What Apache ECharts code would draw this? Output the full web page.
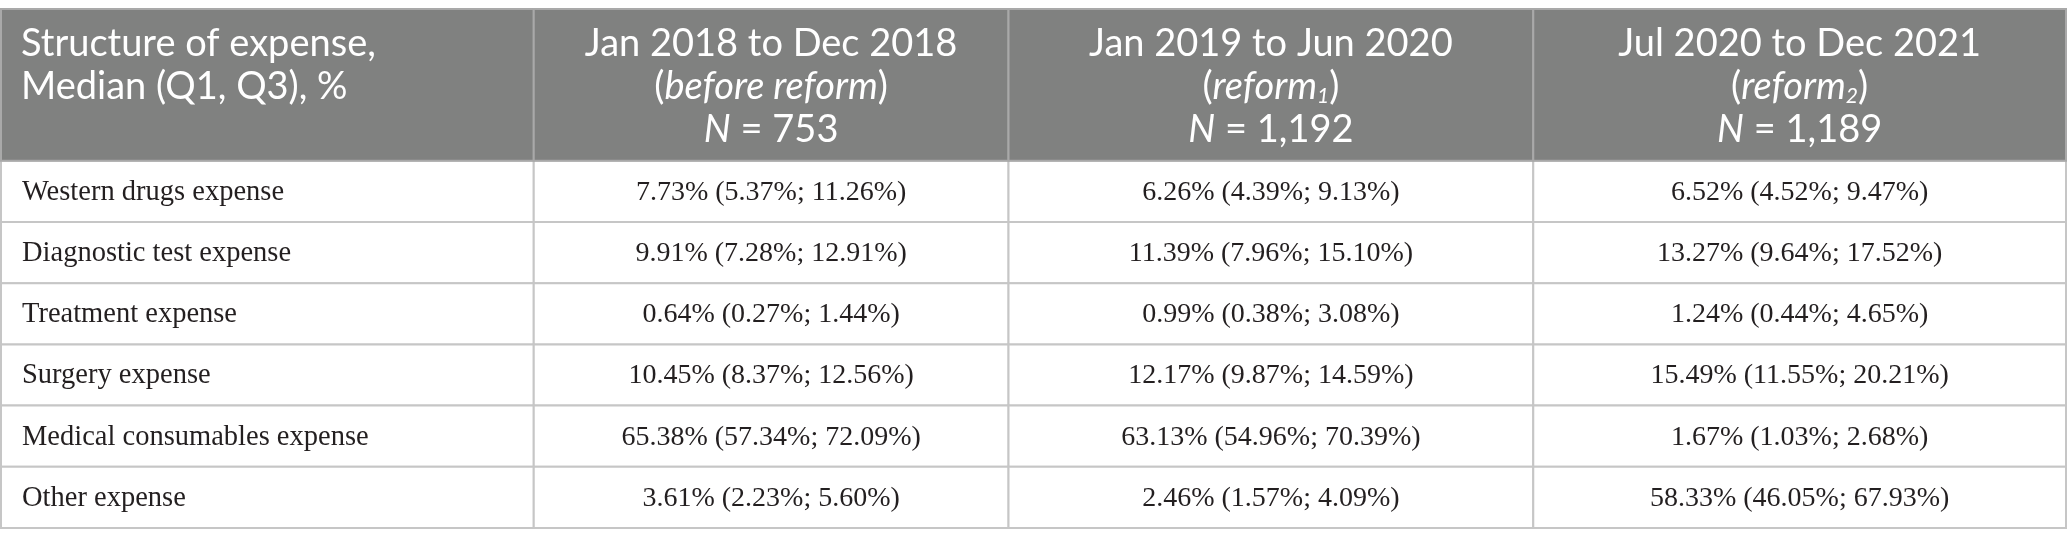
<!DOCTYPE html>
<html>
<head>
<meta charset="utf-8">
<script src="https://cdn.jsdelivr.net/npm/echarts@6.0.0/dist/echarts.min.js"></script>
<style>
  html, body { margin: 0; padding: 0; background: #fff; }
  #chart { width: 2067px; height: 547px; }
</style>
</head>
<body>
<div id="chart"></div>
<script>
// ---- data ----
const categories = [
  'Western drugs expense',
  'Diagnostic test expense',
  'Treatment expense',
  'Surgery expense',
  'Medical consumables expense',
  'Other expense'
];
const stubTitle = ['Structure of expense,', 'Median (Q1, Q3), %'];
const periods = ['Jan 2018 to Dec 2018', 'Jan 2019 to Jun 2020', 'Jul 2020 to Dec 2021'];
const periodNotes = ['before reform', 'reform', 'reform'];
const periodSubs = ['', '1', '2'];
const sampleSizes = [753, 1192, 1189];

const beforeMedian = [7.73, 9.91, 0.64, 10.45, 65.38, 3.61];
const beforeQ1     = [5.37, 7.28, 0.27, 8.37, 57.34, 2.23];
const beforeQ3     = [11.26, 12.91, 1.44, 12.56, 72.09, 5.60];

const reform1Median = [6.26, 11.39, 0.99, 12.17, 63.13, 2.46];
const reform1Q1     = [4.39, 7.96, 0.38, 9.87, 54.96, 1.57];
const reform1Q3     = [9.13, 15.10, 3.08, 14.59, 70.39, 4.09];

const reform2Median = [6.52, 13.27, 1.24, 15.49, 1.67, 58.33];
const reform2Q1     = [4.52, 9.64, 0.44, 11.55, 1.03, 46.05];
const reform2Q3     = [9.47, 17.52, 4.65, 20.21, 2.68, 67.93];

const periodStats = [
  [beforeMedian, beforeQ1, beforeQ3],
  [reform1Median, reform1Q1, reform1Q3],
  [reform2Median, reform2Q1, reform2Q3]
];

// ---- layout ----
const colWidths = [533, 475, 525, 533];
const headerSpan = 2.48;   // header height in body-row units
const colEdges = [0];
colWidths.forEach(w => colEdges.push(colEdges[colEdges.length - 1] + w));
const rowTop = r => (r < 0 ? 0 : headerSpan + r);
const rowBottom = r => (r < 0 ? headerSpan : headerSpan + r + 1);

const pct = v => v.toFixed(2) + '%';
const cellText = (c, r) => {
  if (c === 0) return categories[r];
  const s = periodStats[c - 1];
  return pct(s[0][r]) + ' (' + pct(s[1][r]) + '; ' + pct(s[2][r]) + ')';
};

const headFont = 'Lato';
const headRich = {
  n: { fontFamily: headFont, fontSize: 38, color: '#fff', lineHeight: 43 },
  i: { fontFamily: headFont, fontSize: 38, color: '#fff', lineHeight: 43, fontStyle: 'italic' },
  s: { fontFamily: headFont, fontSize: 21, color: '#fff', fontStyle: 'italic', verticalAlign: 'bottom', padding: [0, 0, 1, 0] }
};
const headerText = c => {
  if (c === 0) return stubTitle.map(t => '{n|' + t + '}').join('\n');
  const i = c - 1;
  const sub = periodSubs[i] ? '{s|' + periodSubs[i] + '}' : '';
  return '{n|' + periods[i] + '}\n' +
    '{n|(}{i|' + periodNotes[i] + '}' + sub + '{n|)}\n' +
    '{i|N}{n| = ' + sampleSizes[i].toLocaleString('en-US') + '}';
};

function cellRect(api, c, r) {
  const p0 = api.coord([colEdges[c], rowTop(r)]);
  const p1 = api.coord([colEdges[c + 1], rowBottom(r)]);
  return { x: p0[0], y: p0[1], width: p1[0] - p0[0], height: p1[1] - p0[1] };
}

const headerData = colWidths.map((w, c) => [c, -1]);
const bodyData = [];
categories.forEach((name, r) => {
  colWidths.forEach((w, c) => bodyData.push([c, r]));
});

const chart = echarts.init(document.getElementById('chart'));
chart.setOption({
  animation: false,
  grid: { left: 1, right: 1, top: 9, bottom: 19 },
  xAxis: { type: 'value', min: 0, max: colEdges[colEdges.length - 1], show: false },
  yAxis: { type: 'value', min: 0, max: headerSpan + categories.length, inverse: true, show: false },
  series: [
    {
      type: 'custom',
      clip: false,
      silent: true,
      data: bodyData,
      renderItem: (params, api) => {
        const c = api.value(0), r = api.value(1);
        const rect = cellRect(api, c, r);
        return {
          type: 'group',
          children: [
            { type: 'rect', shape: rect, style: { fill: '#fff', stroke: '#c6c6c6', lineWidth: 2 } },
            {
              type: 'text',
              style: {
                x: c === 0 ? rect.x + 21 : rect.x + rect.width / 2,
                y: rect.y + rect.height / 2 + 1,
                text: cellText(c, r),
                align: c === 0 ? 'left' : 'center',
                verticalAlign: 'middle',
                fontFamily: 'Liberation Serif',
                fontSize: c === 0 ? 28.5 : 28,
                fill: '#231f20'
              }
            }
          ]
        };
      }
    },
    {
      type: 'custom',
      clip: false,
      silent: true,
      data: headerData,
      renderItem: (params, api) => {
        const c = api.value(0);
        const rect = cellRect(api, c, -1);
        return {
          type: 'group',
          children: [
            { type: 'rect', shape: rect, style: { fill: '#808180', stroke: '#a9a9a9', lineWidth: 2 } },
            {
              type: 'text',
              style: {
                x: c === 0 ? rect.x + 20 : rect.x + rect.width / 2,
                y: rect.y + 13,
                text: headerText(c),
                rich: headRich,
                align: c === 0 ? 'left' : 'center',
                verticalAlign: 'top',
                fontFamily: headFont,
                fontSize: 38,
                fill: '#fff'
              }
            }
          ]
        };
      }
    }
  ]
});
</script>
</body>
</html>
